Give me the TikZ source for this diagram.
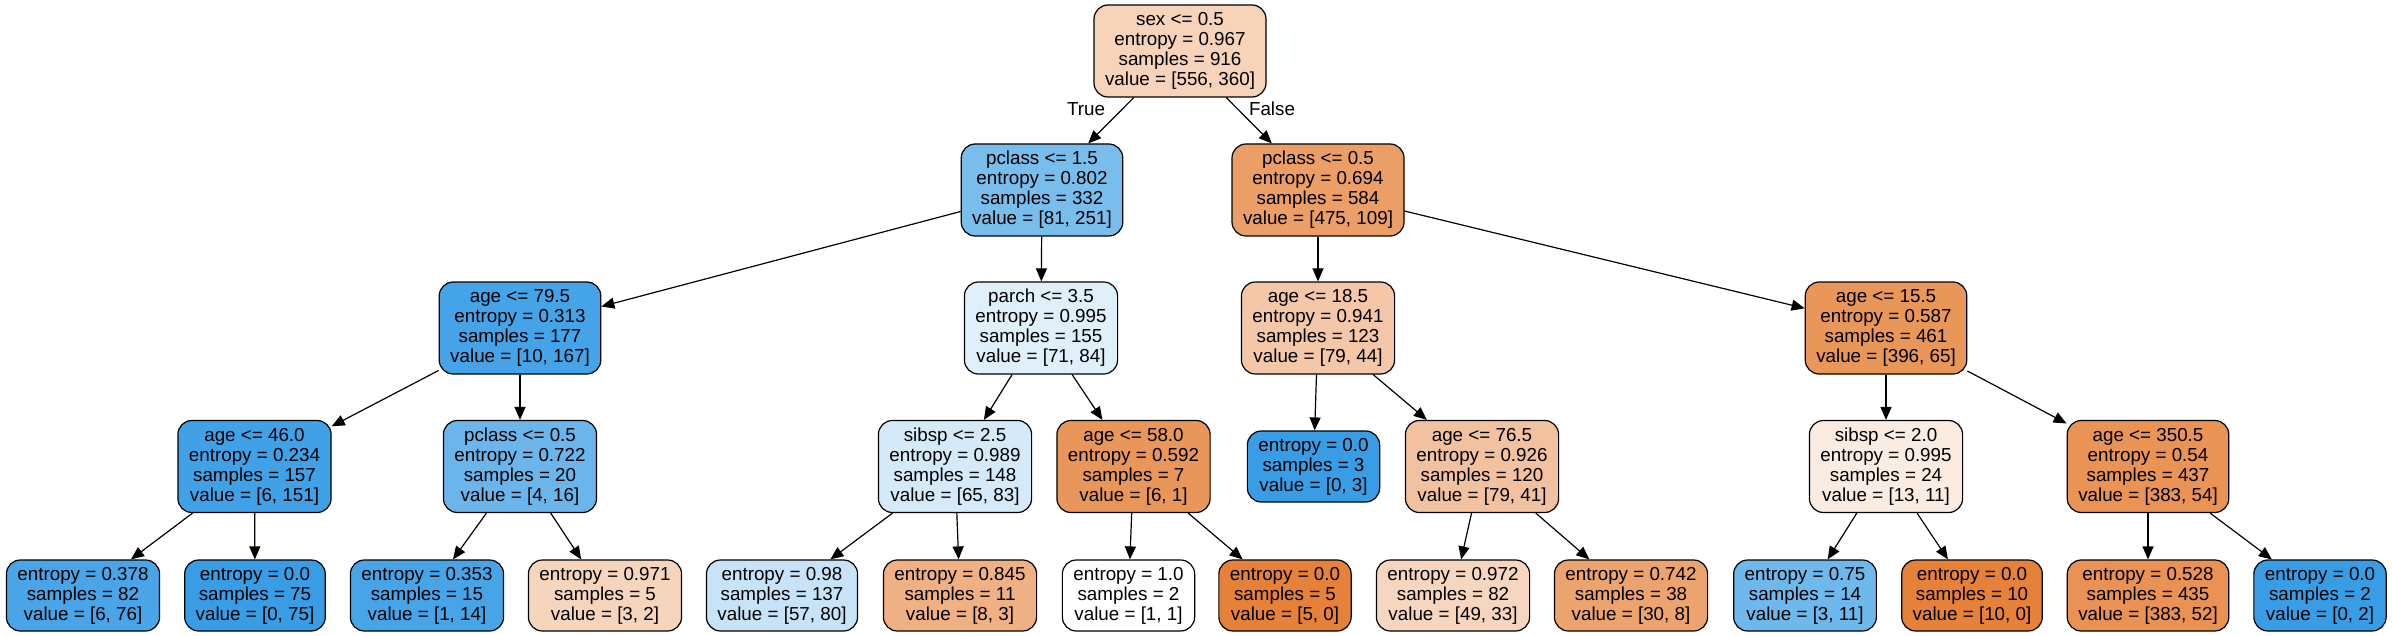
\documentclass[tikz,border=0pt]{standalone}
\usepackage{fontspec}
\setmainfont{Liberation Sans}
\usetikzlibrary{arrows.meta}
\definecolor{clsA}{RGB}{229,129,57}
\definecolor{clsB}{RGB}{57,157,229}
\begin{document}
\begin{tikzpicture}[x=.5pt,y=-.5pt,
  split/.style={draw=black,line width=.6pt,rounded corners=7pt,align=center,inner xsep=5.5pt,inner ysep=0pt,minimum height=46pt,font=\fontsize{9.4}{10}\selectfont},
  leaf/.style={split,minimum height=35.5pt},
  branch/.style={-{Triangle[length=6.5pt,width=5.5pt]},line width=.6pt}]
\useasboundingbox (0,0) rectangle (2392,636);
% level 0 and 1
\node[split,fill=clsA!35.3!white] (root) at (1180,51) {sex <= 0.5\\entropy = 0.967\\samples = 916\\value = [556, 360]};
\node[split,fill=clsB!67.7!white] (pcA) at (1042,190) {pclass <= 1.5\\entropy = 0.802\\samples = 332\\value = [81, 251]};
\node[split,fill=clsA!77.1!white] (pcB) at (1318,190) {pclass <= 0.5\\entropy = 0.694\\samples = 584\\value = [475, 109]};
% level 2
\node[split,fill=clsB!94!white] (ageA) at (520,328) {age <= 79.5\\entropy = 0.313\\samples = 177\\value = [10, 167]};
\node[split,fill=clsB!15.5!white] (parch) at (1041,328) {parch <= 3.5\\entropy = 0.995\\samples = 155\\value = [71, 84]};
\node[split,fill=clsA!44.3!white] (ageB) at (1318,328) {age <= 18.5\\entropy = 0.941\\samples = 123\\value = [79, 44]};
\node[split,fill=clsA!83.6!white] (ageC) at (1886,328) {age <= 15.5\\entropy = 0.587\\samples = 461\\value = [396, 65]};
% level 3
\node[split,fill=clsB!96!white] (ageD) at (254.5,466.5) {age <= 46.0\\entropy = 0.234\\samples = 157\\value = [6, 151]};
\node[split,fill=clsB!75!white] (pcC) at (520,466.5) {pclass <= 0.5\\entropy = 0.722\\samples = 20\\value = [4, 16]};
\node[split,fill=clsB!21.7!white] (sibA) at (955,466.5) {sibsp <= 2.5\\entropy = 0.989\\samples = 148\\value = [65, 83]};
\node[split,fill=clsA!83.3!white] (ageE) at (1133.5,466.5) {age <= 58.0\\entropy = 0.592\\samples = 7\\value = [6, 1]};
\node[leaf,fill=clsB] (leafo) at (1313.5,466.5) {entropy = 0.0\\samples = 3\\value = [0, 3]};
\node[split,fill=clsA!48.1!white] (ageF) at (1482,466.5) {age <= 76.5\\entropy = 0.926\\samples = 120\\value = [79, 41]};
\node[split,fill=clsA!15.4!white] (sibB) at (1886,466.5) {sibsp <= 2.0\\entropy = 0.995\\samples = 24\\value = [13, 11]};
\node[split,fill=clsA!85.9!white] (ageG) at (2148,466.5) {age <= 350.5\\entropy = 0.54\\samples = 437\\value = [383, 54]};
% level 4
\node[leaf,fill=clsB!92.1!white] (leafa) at (83,595.5) {entropy = 0.378\\samples = 82\\value = [6, 76]};
\node[leaf,fill=clsB] (leafb) at (255,595.5) {entropy = 0.0\\samples = 75\\value = [0, 75]};
\node[leaf,fill=clsB!92.9!white] (leafc) at (427,595.5) {entropy = 0.353\\samples = 15\\value = [1, 14]};
\node[leaf,fill=clsA!33.3!white] (leafd) at (605,595.5) {entropy = 0.971\\samples = 5\\value = [3, 2]};
\node[leaf,fill=clsB!28.8!white] (leafe) at (782,595.5) {entropy = 0.98\\samples = 137\\value = [57, 80]};
\node[leaf,fill=clsA!62.5!white] (leaff) at (960,595.5) {entropy = 0.845\\samples = 11\\value = [8, 3]};
\node[leaf,fill=white] (leafg) at (1128.5,595.5) {entropy = 1.0\\samples = 2\\value = [1, 1]};
\node[leaf,fill=clsA] (leafh) at (1285,595.5) {entropy = 0.0\\samples = 5\\value = [5, 0]};
\node[leaf,fill=clsA!32.7!white] (leafi) at (1453,595.5) {entropy = 0.972\\samples = 82\\value = [49, 33]};
\node[leaf,fill=clsA!73.3!white] (leafj) at (1631,595.5) {entropy = 0.742\\samples = 38\\value = [30, 8]};
\node[leaf,fill=clsB!72.7!white] (leafk) at (1805,595.5) {entropy = 0.75\\samples = 14\\value = [3, 11]};
\node[leaf,fill=clsA] (leafl) at (1972,595.5) {entropy = 0.0\\samples = 10\\value = [10, 0]};
\node[leaf,fill=clsA!86.4!white] (leafm) at (2148,595.5) {entropy = 0.528\\samples = 435\\value = [383, 52]};
\node[leaf,fill=clsB] (leafn) at (2320,595.5) {entropy = 0.0\\samples = 2\\value = [0, 2]};
% branches
\draw[branch] (root) -- (pcA);
\draw[branch] (root) -- (pcB);
\node[font=\fontsize{9.4}{10}\selectfont] (tlab) at (1086,109) {True};
\node[font=\fontsize{9.4}{10}\selectfont] (flab) at (1272,109) {False};
\draw[branch] (pcA) -- (ageA);
\draw[branch] (pcA) -- (parch);
\draw[branch] (pcB) -- (ageB);
\draw[branch] (pcB) -- (ageC);
\draw[branch] (ageA) -- (ageD);
\draw[branch] (ageA) -- (pcC);
\draw[branch] (parch) -- (sibA);
\draw[branch] (parch) -- (ageE);
\draw[branch] (ageB) -- (leafo);
\draw[branch] (ageB) -- (ageF);
\draw[branch] (ageC) -- (sibB);
\draw[branch] (ageC) -- (ageG);
\draw[branch] (ageD) -- (leafa);
\draw[branch] (ageD) -- (leafb);
\draw[branch] (pcC) -- (leafc);
\draw[branch] (pcC) -- (leafd);
\draw[branch] (sibA) -- (leafe);
\draw[branch] (sibA) -- (leaff);
\draw[branch] (ageE) -- (leafg);
\draw[branch] (ageE) -- (leafh);
\draw[branch] (ageF) -- (leafi);
\draw[branch] (ageF) -- (leafj);
\draw[branch] (sibB) -- (leafk);
\draw[branch] (sibB) -- (leafl);
\draw[branch] (ageG) -- (leafm);
\draw[branch] (ageG) -- (leafn);
\end{tikzpicture}
\end{document}
